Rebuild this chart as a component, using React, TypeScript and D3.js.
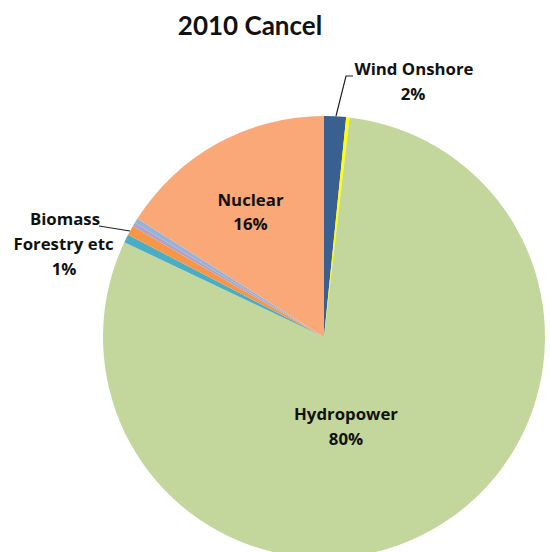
import React from "react";
import * as d3 from "d3";

const categories = [
  "Wind Onshore",
  "Wind Offshore",
  "Hydropower",
  "Solar",
  "Biomass Forestry etc",
  "Biogas",
  "Waste",
  "Nuclear",
];
const values = [1.6, 0.25, 80.2, 0.6, 0.7, 0.3, 0.35, 16.0];
const colors = ["#3A6092", "#FFFF00", "#C3D69B", "#4BACC6", "#F79646", "#B3A2C7", "#95B3D7", "#FAA878"];

const W = 550;
const H = 552;
const cx = 324;
const cy = 337;
const R = 221;

export default function App() {
  const pie = d3.pie<number>().sort(null).value((d) => d)(values);
  const arc = d3.arc<d3.PieArcDatum<number>>().innerRadius(0).outerRadius(R);
  const labelStyle: React.CSSProperties = {
    fontFamily: "'Open Sans', Lato, sans-serif",
    fontWeight: 700,
    fontSize: 16.8,
    fill: "#111",
  };
  return (
    <svg
      width={W}
      height={H}
      style={{ position: "absolute", left: 0, top: 0, background: "#fff" }}
    >
      <text
        x={250}
        y={35}
        textAnchor="middle"
        style={{ fontFamily: "Lato, 'Open Sans', sans-serif", fontWeight: 700, fontSize: 26, fill: "#111" }}
      >
        2010 Cancel
      </text>
      <g transform={`translate(${cx},${cy})`}>
        {pie.map((p, i) => (
          <path key={categories[i]} d={arc(p) as string} fill={colors[i]} />
        ))}
      </g>
      {/* leader lines */}
      <polyline points="336,116 346,76 353,76" fill="none" stroke="#222" strokeWidth={1.2} />
      <polyline points="99,226 130,231" fill="none" stroke="#222" strokeWidth={1.2} />
      <text x={414} y={75} textAnchor="middle" style={labelStyle}>{categories[0]}</text>
      <text x={413} y={100} textAnchor="middle" style={labelStyle}>{`${Math.round(values[0])}%`}</text>
      <text x={250.5} y={206} textAnchor="middle" style={labelStyle}>{categories[7]}</text>
      <text x={250.5} y={230} textAnchor="middle" style={labelStyle}>{`${Math.round(values[7])}%`}</text>
      <text x={346} y={420} textAnchor="middle" style={labelStyle}>{categories[2]}</text>
      <text x={346} y={445} textAnchor="middle" style={labelStyle}>{`${Math.round(values[2])}%`}</text>
      <text x={65} y={225} textAnchor="middle" style={labelStyle}>Biomass</text>
      <text x={63.5} y={250} textAnchor="middle" style={labelStyle}>Forestry etc</text>
      <text x={64} y={275} textAnchor="middle" style={labelStyle}>{`${Math.round(values[4])}%`}</text>
    </svg>
  );
}
